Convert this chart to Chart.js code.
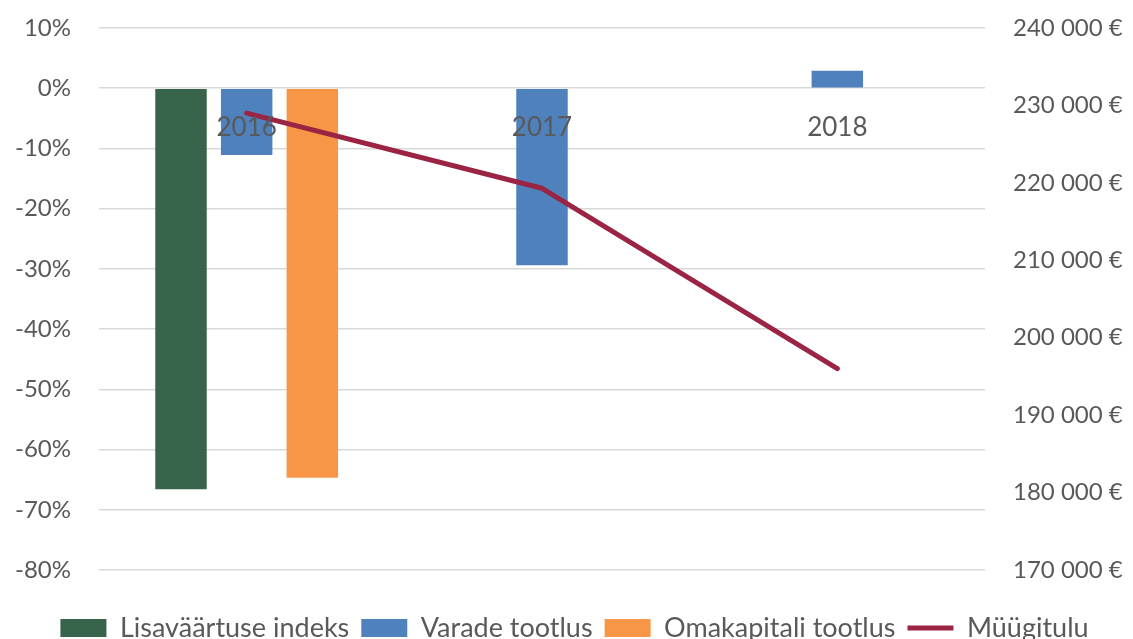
<!DOCTYPE html>
<html>
<head>
<meta charset="utf-8">
<script src="https://cdn.jsdelivr.net/npm/chart.js@4/dist/chart.umd.min.js"></script>
<style>
  html, body { margin: 0; padding: 0; background: #ffffff; }
  #wrap { width: 1133px; height: 639px; position: relative; }
</style>
</head>
<body>
<div id="wrap"><canvas id="c"></canvas></div>
<script>
const categories = ['2016', '2017', '2018'];
const lisavaartuseIndeks = [-66.6, null, null];
const varadeTootlus = [-11.1, -29.4, 2.9];
const omakapitaliTootlus = [-64.7, null, null];
const myygitulu = [229000, 219300, 196000];

const seriesNames = ['Lisaväärtuse indeks', 'Varade tootlus', 'Omakapitali tootlus', 'Müügitulu'];
const seriesColors = ['#37644B', '#4F81BD', '#F79646', '#9B2343'];

const leftTicks = { min: -80, max: 10, step: 10 };
const rightTicks = { min: 170000, max: 240000, step: 10000 };

const textColor = '#595959';
const fontFamily = 'Lato, "Open Sans", sans-serif';

function fmtEuro(v) {
  return String(Math.round(v)).replace(/\B(?=(\d{3})+(?!\d))/g, ' ') + ' €';
}

const barCommon = { categoryPercentage: 0.667, barPercentage: 0.784, borderWidth: 0, pointStyle: 'rect', order: 1, yAxisID: 'y' };

new Chart(document.getElementById('c'), {
  type: 'bar',
  data: {
    labels: categories,
    datasets: [
      Object.assign({ label: seriesNames[0], data: lisavaartuseIndeks, backgroundColor: seriesColors[0] }, barCommon),
      Object.assign({ label: seriesNames[1], data: varadeTootlus, backgroundColor: seriesColors[1] }, barCommon),
      Object.assign({ label: seriesNames[2], data: omakapitaliTootlus, backgroundColor: seriesColors[2] }, barCommon),
      {
        type: 'line', label: seriesNames[3], data: myygitulu, yAxisID: 'y2',
        borderColor: seriesColors[3], backgroundColor: seriesColors[3],
        borderWidth: 5, pointRadius: 0, pointHoverRadius: 0, tension: 0,
        borderCapStyle: 'round', borderJoinStyle: 'round', pointStyle: 'line', order: 0, fill: false
      }
    ]
  },
  options: {
    responsive: true,
    maintainAspectRatio: false,
    animation: false,
    layout: { padding: { top: 28, bottom: -12.5, left: 16, right: 0 } },
    plugins: {
      tooltip: { enabled: false },
      legend: {
        position: 'bottom',
        title: { display: true, text: ' ', font: { size: 10 }, padding: { top: 20.5, bottom: 0 } },
        labels: {
          usePointStyle: true,
          pointStyleWidth: 46,
          boxHeight: 18,
          padding: 12,
          color: textColor,
          font: { family: fontFamily, size: 27 },
          sort: (a, b) => a.datasetIndex - b.datasetIndex
        }
      }
    },
    scales: {
      x: {
        type: 'category',
        position: { y: 0 },
        grid: { display: false, drawTicks: false },
        border: { display: false },
        ticks: { z: 1, color: textColor, padding: 24, font: { family: fontFamily, size: 26 }, maxRotation: 0 }
      },
      y: {
        position: 'left',
        min: leftTicks.min, max: leftTicks.max,
        grid: { color: '#D9D9D9', lineWidth: 1.5, drawTicks: true, tickLength: 28, tickColor: 'rgba(0,0,0,0)' },
        border: { display: false },
        ticks: { stepSize: leftTicks.step, color: textColor, padding: 0, font: { family: fontFamily, size: 24 },
          callback: v => v + '%' },
        afterFit: s => { s.width = 83; }
      },
      y2: {
        position: 'right',
        min: rightTicks.min, max: rightTicks.max,
        grid: { display: true, drawOnChartArea: false, color: 'rgba(0,0,0,0)', drawTicks: true, tickLength: 28, tickColor: 'rgba(0,0,0,0)' },
        border: { display: false },
        ticks: { stepSize: rightTicks.step, color: textColor, padding: 0, font: { family: fontFamily, size: 24 },
          callback: v => fmtEuro(v) },
        afterFit: s => { s.width = 148; }
      }
    }
  }
});
</script>
</body>
</html>
